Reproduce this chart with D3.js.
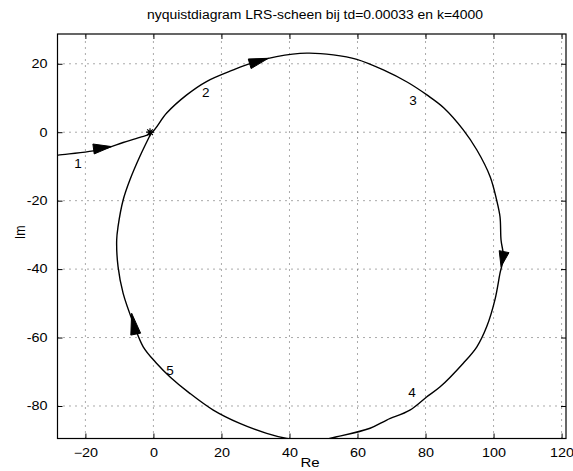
<!DOCTYPE html>
<html>
<head>
<meta charset="utf-8">
<script src="https://cdn.jsdelivr.net/npm/d3@7"></script>
<style>
body { margin: 0; background: #fff; }
text { font-family: "Liberation Sans", Arial, sans-serif; fill: #000; }
</style>
</head>
<body>
<div id="chart"></div>
<script>
// data
var xTicks = [-20, 0, 20, 40, 60, 80, 100, 120];
var yTicks = [-80, -60, -40, -20, 0, 20];

// nyquist curve, in order of increasing frequency
var nyqRe = [-30, -28, -15.2, -8.9, -4.0, -0.7,
  3.9, 9.8, 15.6, 23.5, 29.4, 36.2, 45.1, 52.9, 59.8, 67.6, 74.7, 80.4, 85.4, 91.1,
  95.1, 99.0, 100.9, 101.9, 102.2, 102.9, 101.9, 100.4, 98.0, 95.1, 91.1, 84.3, 80.4,
  75.4, 68.6, 63.7, 53.9, 46, 39.2, 33.3, 25.4, 17.6, 10.7, 4.9, 0.9, -3.0, -5.9,
  -8.9, -10.4, -10.8, -10.4, -8.9, -6.9, -4.0, -0.7];
var nyqIm = [-7, -6.7, -5.0, -3.0, -1.5, -0.3,
  5.6, 10.9, 14.8, 18.2, 20.4, 22.1, 23.1, 22.6, 21.3, 18.2, 14.6, 10.9, 7.1, 0.7,
  -5.2, -13.0, -19.8, -24.7, -31.5, -36.4, -41.2, -49.0, -56.8, -62.7, -67.5, -74.4, -77.3,
  -81.2, -84.1, -86.5, -89.0, -90.5, -89.5, -88.0, -85.1, -81.2, -76.3, -71.5, -67.5, -62.7, -55.8,
  -47.1, -39.3, -31.5, -27.6, -19.8, -13.9, -7.1, -0.3];

// direction arrows: tail -> tip
var arrowTail = [[-17.6, -4.9], [28.3, 20.0], [103.1, -34.9], [-5.2, -59.0]];
var arrowTip  = [[-12.3, -4.2], [33.8, 21.6], [102.2, -39.3], [-6.4, -52.9]];

var labelText = ["1", "2", "3", "4", "5"];
var labelRe = [-22.2, 15.4, 76.3, 76.0, 4.9];
var labelIm = [-9.0, 11.8, 9.2, -75.9, -69.7];

var critPoint = [-1, 0];

var width = 573, height = 471;
var margin = {top: 34, right: 7, bottom: 32.5, left: 57.5};
var stretch = 1.2; // the scan is wider than tall

var x = d3.scaleLinear().domain([-28.2, 121.3]).range([margin.left, width - margin.right]);
var y = d3.scaleLinear().domain([-89.5, 28.7]).range([height - margin.bottom, margin.top]);

var svg = d3.select("#chart").append("svg")
    .attr("width", width)
    .attr("height", height);

svg.append("defs").append("clipPath").attr("id", "clip")
  .append("rect")
    .attr("x", x.range()[0]).attr("y", y.range()[1])
    .attr("width", x.range()[1] - x.range()[0])
    .attr("height", y.range()[0] - y.range()[1]);

// grid
var grid = svg.append("g")
    .attr("stroke", "#555")
    .attr("stroke-width", 1)
    .attr("stroke-dasharray", "1,5");
grid.selectAll(".gx").data(xTicks).join("line")
    .attr("x1", d => x(d)).attr("x2", d => x(d))
    .attr("y1", y.range()[0]).attr("y2", y.range()[1]);
grid.selectAll(".gy").data(yTicks).join("line")
    .attr("x1", x.range()[0]).attr("x2", x.range()[1])
    .attr("y1", d => y(d)).attr("y2", d => y(d));

function widen(g) {
  g.selectAll("text")
    .attr("font-size", 12)
    .attr("transform", `scale(${stretch},1)`)
    .attr("x", function() { return (+this.getAttribute("x") || 0) / stretch; });
}

// axes, ticks inside like matlab
var tk = 5;
svg.append("g")
    .attr("transform", `translate(0,${y.range()[0]})`)
    .call(d3.axisBottom(x).tickValues(xTicks).tickSizeInner(-tk).tickSizeOuter(0).tickPadding(10))
    .call(g => g.select(".domain").remove())
    .call(widen);
svg.append("g")
    .attr("transform", `translate(0,${y.range()[1]})`)
    .call(d3.axisTop(x).tickValues(xTicks).tickSizeInner(-tk).tickSizeOuter(0).tickFormat(""))
    .call(g => g.select(".domain").remove());
svg.append("g")
    .attr("transform", `translate(${x.range()[0]},0)`)
    .call(d3.axisLeft(y).tickValues(yTicks).tickSizeInner(-tk).tickSizeOuter(0).tickPadding(10)
      .tickFormat(d => String(d)))
    .call(g => g.select(".domain").remove())
    .call(widen);
svg.append("g")
    .attr("transform", `translate(${x.range()[1]},0)`)
    .call(d3.axisRight(y).tickValues(yTicks).tickSizeInner(-tk).tickSizeOuter(0).tickFormat(""))
    .call(g => g.select(".domain").remove());
svg.selectAll(".tick line").attr("stroke", "#000");

svg.append("rect")
    .attr("x", x.range()[0]).attr("y", y.range()[1])
    .attr("width", x.range()[1] - x.range()[0])
    .attr("height", y.range()[0] - y.range()[1])
    .attr("fill", "none")
    .attr("stroke", "#000")
    .attr("stroke-width", 1.2);

// curve
var pts = nyqRe.map((r, i) => [r, nyqIm[i]]);
var line = d3.line().x(d => x(d[0])).y(d => y(d[1])).curve(d3.curveCatmullRom);
var plot = svg.append("g").attr("clip-path", "url(#clip)");
plot.append("path")
    .datum(pts)
    .attr("d", line)
    .attr("fill", "none")
    .attr("stroke", "#000")
    .attr("stroke-width", 1.4);

// arrows
var aw = 5;
plot.selectAll(".arrow").data(arrowTail).join("path")
    .attr("d", (t, i) => {
      var x0 = x(t[0]), y0 = y(t[1]);
      var x1 = x(arrowTip[i][0]), y1 = y(arrowTip[i][1]);
      var dx = x1 - x0, dy = y1 - y0, L = Math.hypot(dx, dy);
      var nx = -dy / L * aw, ny = dx / L * aw;
      return `M${x1},${y1}L${x0 + nx},${y0 + ny}L${x0 - nx},${y0 - ny}Z`;
    })
    .attr("fill", "#000")
    .attr("stroke", "#000")
    .attr("stroke-width", 1);

// critical point marker (*)
var cx = x(critPoint[0]), cy = y(critPoint[1]), s = 4;
plot.append("path")
    .attr("d", `M${cx - s},${cy}L${cx + s},${cy}M${cx},${cy - s}L${cx},${cy + s}` +
      `M${cx - s * 0.7},${cy - s * 0.7}L${cx + s * 0.7},${cy + s * 0.7}` +
      `M${cx - s * 0.7},${cy + s * 0.7}L${cx + s * 0.7},${cy - s * 0.7}`)
    .attr("stroke", "#000")
    .attr("stroke-width", 1.2);

// frequency labels
svg.selectAll(".lbl").data(labelText).join("text")
    .attr("x", (d, i) => x(labelRe[i]))
    .attr("y", (d, i) => y(labelIm[i]))
    .attr("dy", "0.35em")
    .attr("text-anchor", "middle")
    .attr("font-size", 13.5)
    .text(d => d);

// titles
svg.append("text")
    .attr("x", 147).attr("y", 19)
    .attr("font-size", 12.5)
    .attr("textLength", 336)
    .attr("lengthAdjust", "spacingAndGlyphs")
    .text("nyquistdiagram LRS-scheen bij td=0.00033 en k=4000");
svg.append("text")
    .attr("transform", `translate(310,467) scale(${stretch},1)`)
    .attr("text-anchor", "middle")
    .attr("font-size", 12.5)
    .text("Re");
svg.append("text")
    .attr("transform", `translate(25,${(y.range()[0] + y.range()[1]) / 2 - 4}) rotate(-90) scale(1,${stretch})`)
    .attr("text-anchor", "middle")
    .attr("font-size", 12.5)
    .text("Im");
</script>
</body>
</html>
